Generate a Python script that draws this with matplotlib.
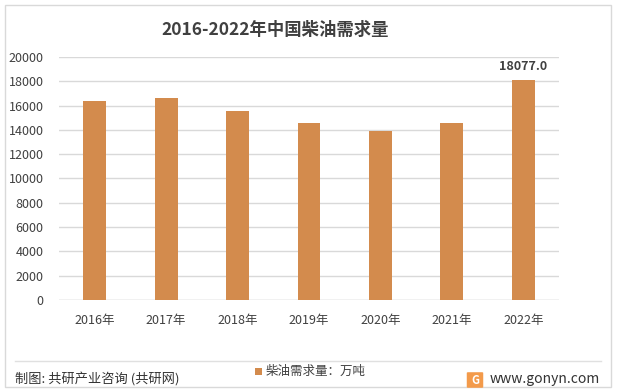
import matplotlib
matplotlib.use("Agg")
import matplotlib.pyplot as plt
from matplotlib.patches import Rectangle, FancyBboxPatch
from matplotlib.lines import Line2D

plt.rcParams['font.family'] = ['Noto Sans CJK SC', 'DejaVu Sans']

title = "2016-2022年中国柴油需求量"
categories = ["2016年", "2017年", "2018年", "2019年", "2020年", "2021年", "2022年"]
values = [16360, 16600, 15530, 14550, 13890, 14550, 18077]
series_name = "柴油需求量：万吨"
yticks = [0, 2000, 4000, 6000, 8000, 10000, 12000, 14000, 16000, 18000, 20000]
source = "制图: 共研产业咨询 (共研网)"
site = "www.gonyn.com"

bar_color = "#D38B4D"
text_color = "#404040"
grid_color = "#D9D9D9"

fig = plt.figure(figsize=(6.17, 3.92), dpi=100)
ax = fig.add_axes([59/617, 1-300/392, 500/617, 243/392])

x = list(range(len(categories)))
bars = ax.bar(x, values, width=0.32, color=bar_color, zorder=3)
ax.set_xlim(-0.5, len(categories)-0.5)
ax.set_ylim(0, 20000)
ax.set_yticks(yticks)
ax.set_yticklabels([str(v) for v in yticks], fontsize=9, color=text_color)
ax.set_xticks(x)
ax.set_xticklabels(categories, fontsize=9, color=text_color)
ax.tick_params(axis='both', length=0)
ax.tick_params(axis='x', pad=10)
ax.tick_params(axis='y', pad=11)
ax.grid(axis='y', color=grid_color, linewidth=1, zorder=0)
for s in ax.spines.values():
    s.set_visible(False)
ax.axhline(0, color=grid_color, linewidth=1, zorder=2)

ax.annotate(f"{values[-1]:.1f}", (x[-1], values[-1]), xytext=(0, 5),
            textcoords='offset points', ha='center', va='bottom',
            fontsize=9, color="#404040", fontweight='bold')

fig.text(275/617, 1-30/392, title, ha='center', va='center', fontsize=12.5,
         fontweight='bold', color="#404040")

# outer border
fig.patches.append(Rectangle((5/617, 5/392), 606/617, 382/392, transform=fig.transFigure,
                             fill=False, edgecolor="#D9D9D9", linewidth=1))
# footer separator
fig.lines.append(Line2D([15/617, 601/617], [1-361/392, 1-361/392], transform=fig.transFigure,
                        color="#E0E0E0", linewidth=1))

fig.text(15/617, 1-380/392, source, ha='left', va='center', fontsize=9.5, color="#333333")
fig.patches.append(Rectangle((255/617, 1-375/392), 7/617, 7/392, transform=fig.transFigure,
                             facecolor=bar_color, edgecolor='none'))
fig.text(266/617, 1-371/392, series_name, ha='left', va='center', fontsize=9, color="#404040")

# logo
fig.patches.append(FancyBboxPatch((468/617, 1-387/392), 14/617, 14/392,
                                  boxstyle="round,pad=0.002", transform=fig.transFigure,
                                  facecolor="#F39A4A", edgecolor='none'))
fig.text(475/617, 1-380/392, "G", ha='center', va='center', fontsize=8, color='white',
         fontweight='bold')
fig.text(490/617, 1-379/392, site, ha='left', va='center', fontsize=10, color="#333333")

fig.savefig("out.png", dpi=100)
